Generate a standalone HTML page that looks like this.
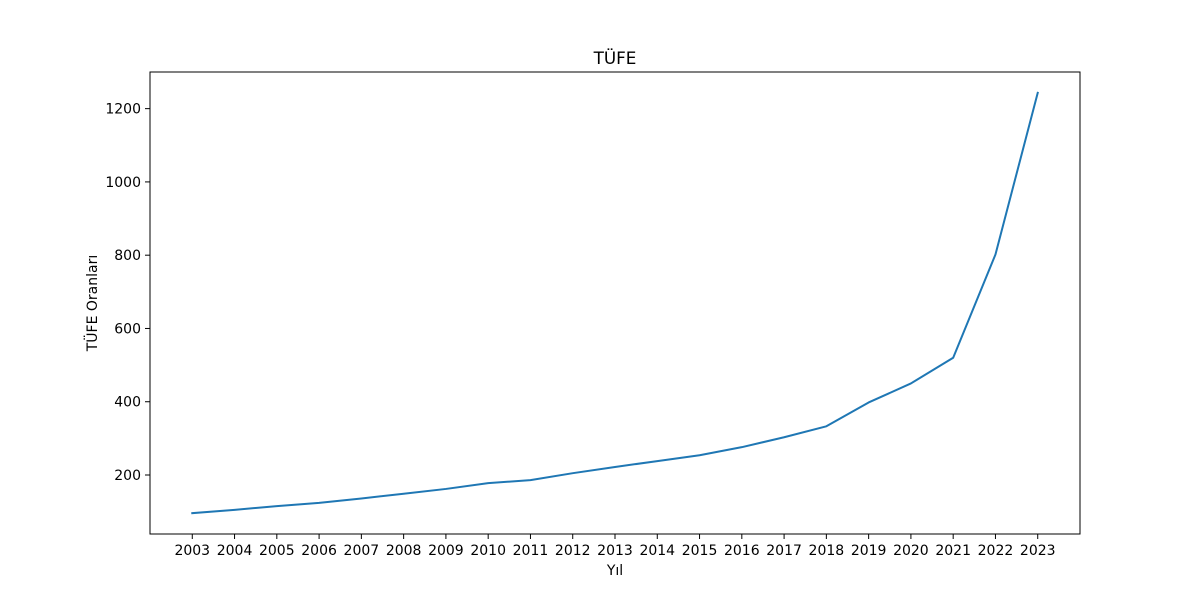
<!DOCTYPE html>
<html><head><meta charset="utf-8"><style>
body{margin:0;background:#fff}
svg text{font-family:"DejaVu Sans","Liberation Sans",sans-serif;fill:#000}
</style></head><body>
<svg id="chart" width="1200" height="600" xmlns="http://www.w3.org/2000/svg">
<rect width="1200" height="600" fill="#fff"/>
<text x="615" y="64" font-size="16.8" text-anchor="middle">TÜFE</text>
<text x="615" y="575" font-size="14" text-anchor="middle">Yıl</text>
<text transform="translate(97,303) rotate(-90)" font-size="14" text-anchor="middle">TÜFE Oranları</text>
<g id="xticks"></g>
<g id="yticks"></g>
<path id="line" fill="none" stroke="#1f77b4" stroke-width="2" stroke-linejoin="round" stroke-linecap="square"/>
<rect x="150" y="72" width="930" height="462" fill="none" stroke="#000" stroke-width="1"/>
</svg>
<script>
const years=[2003,2004,2005,2006,2007,2008,2009,2010,2011,2012,2013,2014,2015,2016,2017,2018,2019,2020,2021,2022,2023];
const values=[96,105,115,124,136,149,162,178,186,205,222,238,254,276,303,333,398,450,520,802,1243];
const yTickValues=[200,400,600,800,1000,1200];
const L=150,R=1080,T=72,B=534;
const xMin=2002,xMax=2024,yMin=39,yMax=1300;
const xs=v=>L+(v-xMin)/(xMax-xMin)*(R-L);
const ys=v=>B-(v-yMin)/(yMax-yMin)*(B-T);
const NS="http://www.w3.org/2000/svg";
const xg=document.getElementById('xticks'),yg=document.getElementById('yticks');
years.forEach(y=>{
 const l=document.createElementNS(NS,'line');
 l.setAttribute('x1',xs(y));l.setAttribute('x2',xs(y));l.setAttribute('y1',B);l.setAttribute('y2',B+5);l.setAttribute('stroke','#000');
 
 
 xg.appendChild(l);
 const t=document.createElementNS(NS,'text');
 t.setAttribute('x',xs(y));t.setAttribute('y',B+21);t.setAttribute('font-size','14');t.setAttribute('text-anchor','middle');
 t.textContent=y;
 
 
 xg.appendChild(t);
});
yTickValues.forEach(v=>{
 const l=document.createElementNS(NS,'line');
 l.setAttribute('x1',L-5);l.setAttribute('x2',L);l.setAttribute('y1',ys(v));l.setAttribute('y2',ys(v));l.setAttribute('stroke','#000');
 
 
 yg.appendChild(l);
 const t=document.createElementNS(NS,'text');
 t.setAttribute('x',L-9);t.setAttribute('y',ys(v)+5);t.setAttribute('font-size','14');t.setAttribute('text-anchor','end');
 t.textContent=v;
 
 
 yg.appendChild(t);
});
document.getElementById('line').setAttribute('d',years.map((y,i)=>(i?'L':'M')+xs(y)+','+ys(values[i])).join(''));
</script>
</body></html>
